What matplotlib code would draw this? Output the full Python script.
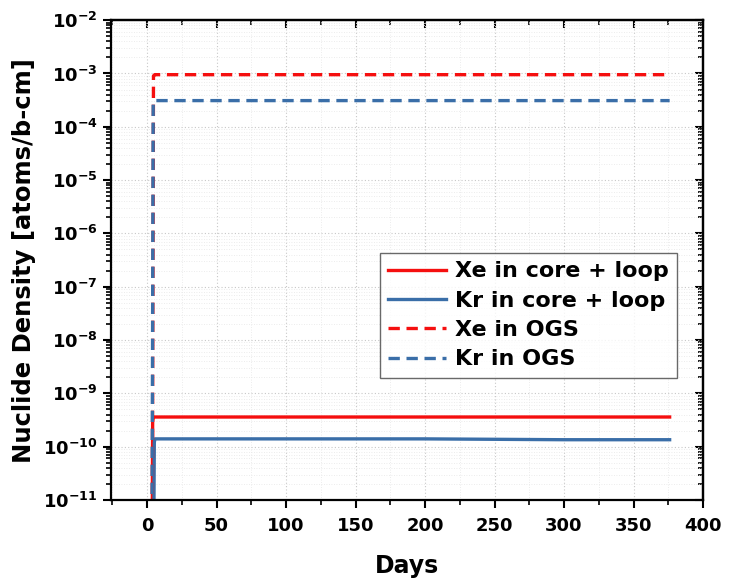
import matplotlib
matplotlib.use("Agg")
import matplotlib.pyplot as plt
from matplotlib.ticker import LogLocator, MultipleLocator, FuncFormatter, NullFormatter
import numpy as np

plt.rcParams["font.family"] = ["DejaVu Sans"]
plt.rcParams["font.weight"] = "bold"
plt.rcParams["mathtext.fontset"] = "custom"
plt.rcParams["mathtext.rm"] = "DejaVu Sans:bold"
plt.rcParams["mathtext.default"] = "rm"

# Nuclide densities [atoms/b-cm] versus days
days_xe_core = [0.0, 3.5, 4.0, 4.6, 100, 200, 300, 376]
xe_core = [1e-13, 1e-13, 3.0e-10, 3.6e-10, 3.6e-10, 3.6e-10, 3.6e-10, 3.6e-10]

days_kr_core = [0.0, 4.5, 5.2, 5.6, 100, 200, 300, 376]
kr_core = [1e-13, 1e-13, 1.2e-10, 1.4e-10, 1.4e-10, 1.4e-10, 1.35e-10, 1.35e-10]

days_xe_ogs = [0.0, 3.6, 4.6, 5.5, 100, 200, 300, 376]
xe_ogs = [1e-13, 1e-13, 9.0e-4, 9.5e-4, 9.5e-4, 9.5e-4, 9.5e-4, 9.5e-4]

days_kr_ogs = [0.0, 3.4, 4.4, 5.3, 100, 200, 300, 376]
kr_ogs = [1e-13, 1e-13, 3.0e-4, 3.1e-4, 3.1e-4, 3.1e-4, 3.1e-4, 3.1e-4]

red = "#F50F0F"
blue = "#3A6EA8"
dash = (0, (3.4, 2.0))

fig = plt.figure(figsize=(7.30, 5.83), dpi=100)
ax = fig.add_axes([0.152, 0.1424, 0.811, 0.823])

ax.plot(days_xe_core, xe_core, color=red, lw=2.4, label="Xe in core + loop")
ax.plot(days_kr_core, kr_core, color=blue, lw=2.4, label="Kr in core + loop")
ax.plot(days_xe_ogs, xe_ogs, color=red, lw=2.4, ls=dash, label="Xe in OGS")
ax.plot(days_kr_ogs, kr_ogs, color=blue, lw=2.4, ls=dash, label="Kr in OGS")

ax.set_yscale("log")
ax.set_ylim(1e-11, 1e-2)
ax.set_xlim(-26, 400)

ax.xaxis.set_major_locator(MultipleLocator(50))
ax.xaxis.set_minor_locator(MultipleLocator(25))
ax.yaxis.set_major_locator(LogLocator(base=10, numticks=20))
ax.yaxis.set_minor_locator(LogLocator(base=10, subs=np.arange(2, 10), numticks=20))
ax.yaxis.set_minor_formatter(NullFormatter())


def pow_fmt(v, pos):
    e = int(round(np.log10(v)))
    return r"$10^{%d}$" % e


ax.yaxis.set_major_formatter(FuncFormatter(pow_fmt))

ax.grid(True, which="major", ls=(0, (1, 2)), color="#C8C8C8", lw=0.8)
ax.grid(True, which="minor", ls=(0, (1, 2)), color="#E6E6E6", lw=0.6)

for s in ax.spines.values():
    s.set_linewidth(1.6)

ax.tick_params(axis="both", which="major", direction="out", length=6, width=1.5,
               labelsize=13)
ax.tick_params(axis="both", which="minor", direction="out", length=3.5, width=1.2)
ax.tick_params(axis="x", which="major", pad=6)

# mirrored inward ticks on top and right
axt = ax.secondary_xaxis("top")
axt.xaxis.set_major_locator(MultipleLocator(50))
axt.xaxis.set_minor_locator(MultipleLocator(25))
axt.tick_params(which="major", direction="in", length=6, width=1.5, labeltop=False)
axt.tick_params(which="minor", direction="in", length=3.5, width=1.2)
axt.spines["top"].set_linewidth(1.6)

axr = ax.secondary_yaxis("right")
axr.yaxis.set_major_locator(LogLocator(base=10, numticks=20))
axr.yaxis.set_minor_locator(LogLocator(base=10, subs=np.arange(2, 10), numticks=20))
axr.tick_params(which="major", direction="in", length=6, width=1.5, labelright=False)
axr.tick_params(which="minor", direction="in", length=3.5, width=1.2)
axr.spines["right"].set_linewidth(1.6)

ax.set_xlabel("Days", fontsize=17, fontweight="bold", labelpad=14)
ax.set_ylabel("Nuclide Density [atoms/b-cm]", fontsize=17.5, fontweight="bold", labelpad=5)

leg = ax.legend(loc="upper left", bbox_to_anchor=(0.454, 0.515), fontsize=16,
                frameon=True, fancybox=False, edgecolor="#444444",
                handlelength=2.6, handletextpad=0.4, labelspacing=0.42,
                borderpad=0.38, borderaxespad=0)
leg.get_frame().set_linewidth(1.0)
for t in leg.get_texts():
    t.set_fontweight("bold")

fig.savefig("out.png", dpi=100)
